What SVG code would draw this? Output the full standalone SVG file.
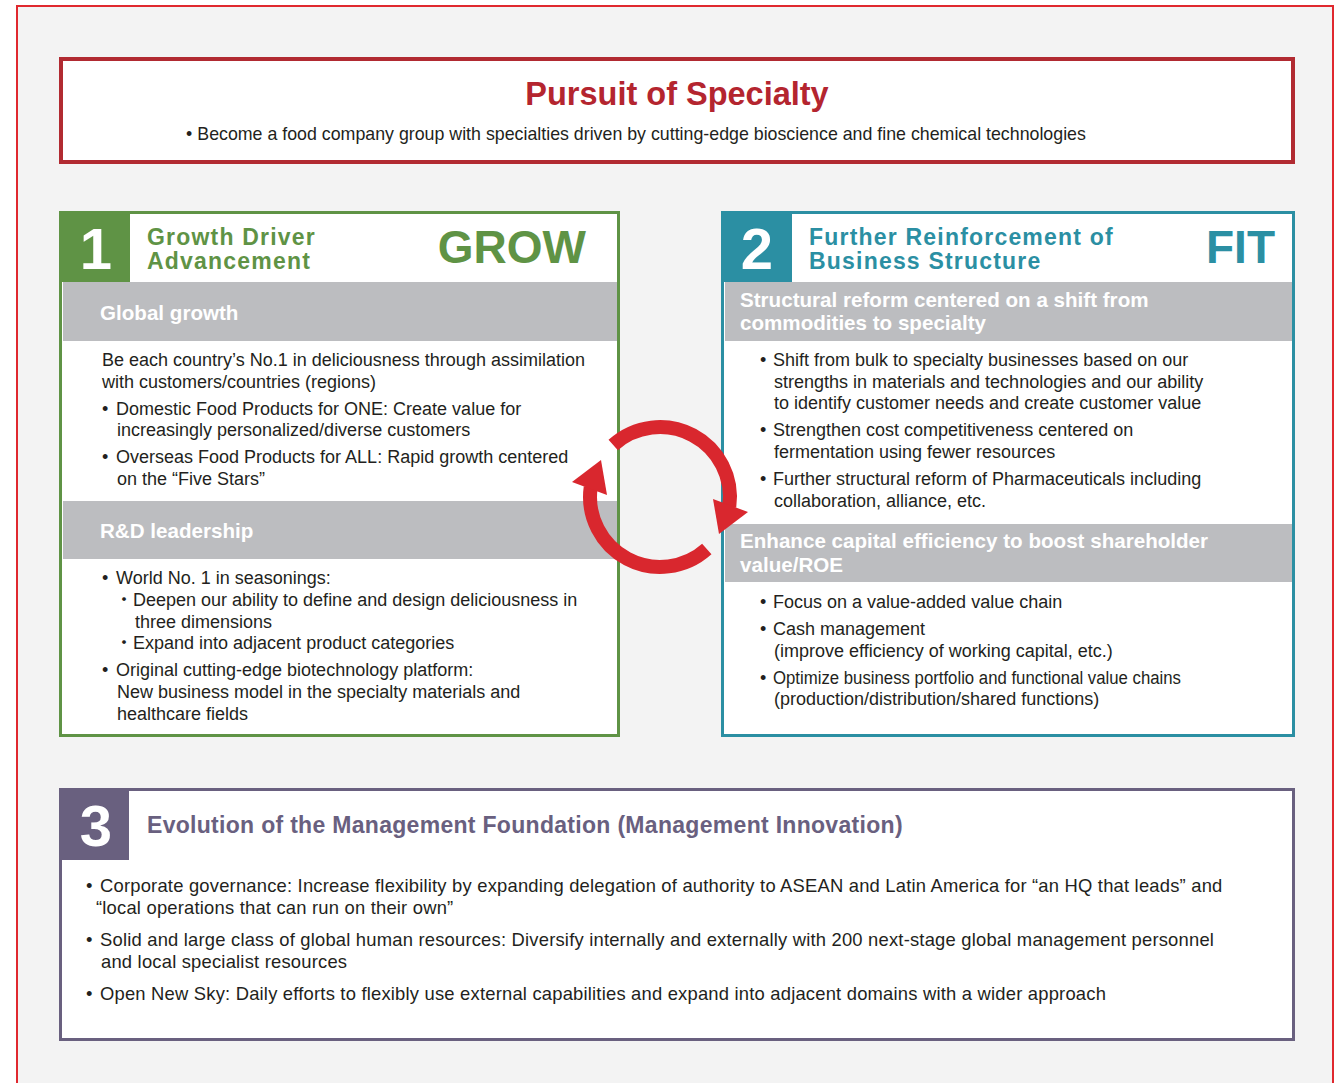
<svg xmlns="http://www.w3.org/2000/svg" width="1337" height="1083" viewBox="0 0 1337 1083">
<style>
text{font-family:"Liberation Sans",Arial,"Noto Sans CJK JP",sans-serif}
.body{font-size:18px;fill:#231f20}
.body3{font-size:18.4px;letter-spacing:0.2px;fill:#231f20}
.sec{font-size:20.6px;font-weight:bold;fill:#ffffff}
.num{font-size:58px;font-weight:bold;fill:#ffffff;text-anchor:middle}
.hd{font-size:23px;font-weight:bold;letter-spacing:1.2px}
.big{font-size:46px;font-weight:bold;text-anchor:end}
.bar{fill:#bcbdc0}
.arc{fill:none;stroke:#d9272e;stroke-width:14}
.head{fill:#d9272e}
</style>
<rect x="0" y="0" width="1337" height="1083" fill="#ffffff"/>
<rect x="17" y="6" width="1316" height="1090" fill="#f3f3f3" stroke="#e0282e" stroke-width="2"/>

<g id="pursuit">
<rect x="61" y="59" width="1232" height="103" fill="#ffffff" stroke="#b12a31" stroke-width="4"/>
<text x="677" y="105" text-anchor="middle" style="font-size:32.5px;font-weight:bold;fill:#b4252f">Pursuit of Specialty</text>
<text x="636" y="140" text-anchor="middle" style="font-size:17.8px;fill:#231f20">• Become a food company group with specialties driven by cutting-edge bioscience and fine chemical technologies</text>
</g>

<g id="grow">
<rect x="60.5" y="212.5" width="558" height="523" fill="#ffffff" stroke="#5f9345" stroke-width="3"/>
<rect x="62" y="214" width="68" height="68" fill="#5f9345"/>
<text x="96" y="269" class="num">1</text>
<text x="147" y="245" class="hd" fill="#5f9345">Growth Driver</text>
<text x="147" y="269" class="hd" fill="#5f9345">Advancement</text>
<text x="586" y="263" class="big" fill="#5f9345">GROW</text>
<rect x="63" y="282" width="554" height="59" class="bar"/>
<text x="100" y="320" class="sec">Global growth</text>
<text class="body"><tspan x="102" y="366">Be each country’s No.1 in deliciousness through assimilation</tspan><tspan x="102" y="388">with customers/countries (regions)</tspan><tspan x="102" y="415">•</tspan><tspan x="116">Domestic Food Products for ONE: Create value for</tspan><tspan x="117" y="436">increasingly personalized/diverse customers</tspan><tspan x="102" y="463">•</tspan><tspan x="116">Overseas Food Products for ALL: Rapid growth centered</tspan><tspan x="117" y="485">on the “Five Stars”</tspan></text>
<rect x="63" y="501" width="554" height="58" class="bar"/>
<text x="100" y="538" class="sec">R&amp;D leadership</text>
<text class="body"><tspan x="102" y="584">•</tspan><tspan x="116">World No. 1 in seasonings:</tspan><tspan x="115" y="606">・Deepen our ability to define and design deliciousness in</tspan><tspan x="135" y="628">three dimensions</tspan><tspan x="115" y="649">・Expand into adjacent product categories</tspan><tspan x="102" y="676">•</tspan><tspan x="116">Original cutting-edge biotechnology platform:</tspan><tspan x="117" y="698">New business model in the specialty materials and</tspan><tspan x="117" y="720">healthcare fields</tspan></text>
</g>

<g id="fit">
<rect x="722.5" y="212.5" width="571" height="523" fill="#ffffff" stroke="#2b8fa3" stroke-width="3"/>
<rect x="724" y="214" width="68" height="68" fill="#2b8fa3"/>
<text x="757" y="269" class="num">2</text>
<text x="809" y="245" class="hd" fill="#2b8fa3">Further Reinforcement of</text>
<text x="809" y="269" class="hd" fill="#2b8fa3">Business Structure</text>
<text x="1275" y="263" class="big" fill="#2b8fa3">FIT</text>
<rect x="725" y="282" width="567" height="59" class="bar"/>
<text class="sec"><tspan x="740" y="307">Structural reform centered on a shift from</tspan><tspan x="740" y="330">commodities to specialty</tspan></text>
<text class="body"><tspan x="760" y="366">•</tspan><tspan x="773">Shift from bulk to specialty businesses based on our</tspan><tspan x="774" y="388">strengths in materials and technologies and our ability</tspan><tspan x="774" y="409">to identify customer needs and create customer value</tspan><tspan x="760" y="436">•</tspan><tspan x="773">Strengthen cost competitiveness centered on</tspan><tspan x="774" y="458">fermentation using fewer resources</tspan><tspan x="760" y="485">•</tspan><tspan x="773">Further structural reform of Pharmaceuticals including</tspan><tspan x="774" y="507">collaboration, alliance, etc.</tspan></text>
<rect x="725" y="524" width="567" height="58" class="bar"/>
<text class="sec"><tspan x="740" y="548">Enhance capital efficiency to boost shareholder</tspan><tspan x="740" y="572">value/ROE</tspan></text>
<text class="body"><tspan x="760" y="608">•</tspan><tspan x="773">Focus on a value-added value chain</tspan><tspan x="760" y="635">•</tspan><tspan x="773">Cash management</tspan><tspan x="774" y="657">(improve efficiency of working capital, etc.)</tspan><tspan x="760" y="684">•</tspan><tspan x="773" textLength="408" lengthAdjust="spacingAndGlyphs">Optimize business portfolio and functional value chains</tspan><tspan x="774" y="705">(production/distribution/shared functions)</tspan></text>
</g>

<g id="foundation">
<rect x="60.5" y="789.5" width="1233" height="250" fill="#ffffff" stroke="#69607f" stroke-width="3"/>
<rect x="62" y="791" width="67" height="69" fill="#69607f"/>
<text x="96" y="846" class="num">3</text>
<text x="147" y="833" style="font-size:23px;font-weight:bold;fill:#69607f;letter-spacing:0.3px">Evolution of the Management Foundation (Management Innovation)</text>
<text class="body3"><tspan x="86" y="892">•</tspan><tspan x="100">Corporate governance: Increase flexibility by expanding delegation of authority to ASEAN and Latin America for “an HQ that leads” and</tspan><tspan x="96" y="914">“local operations that can run on their own”</tspan><tspan x="86" y="946">•</tspan><tspan x="100">Solid and large class of global human resources: Diversify internally and externally with 200 next-stage global management personnel</tspan><tspan x="101" y="968">and local specialist resources</tspan><tspan x="86" y="1000">•</tspan><tspan x="100">Open New Sky: Daily efforts to flexibly use external capabilities and expand into adjacent domains with a wider approach</tspan></text>
</g>

<g id="connectors">
<path class="arc" d="M 613.2 445 A 70 70 0 0 1 729.3 506.7"/>
<polygon class="head" points="713,499 748,512 719,534"/>
<path class="arc" d="M 706.8 549 A 70 70 0 0 1 590.7 487.3"/>
<polygon class="head" points="607,495 572,482 601,460"/>
</g>
</svg>
